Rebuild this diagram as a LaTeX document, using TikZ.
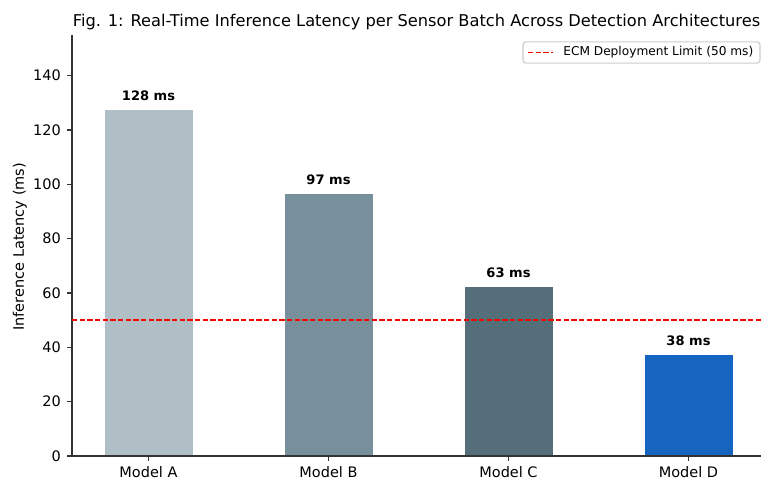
\documentclass[tikz,border=0pt]{standalone}
\usepackage{fontspec}
\setmainfont{DejaVu Sans}
\usetikzlibrary{positioning}
\definecolor{greyA}{HTML}{B0BEC5}
\definecolor{greyB}{HTML}{78909C}
\definecolor{greyC}{HTML}{546E7A}
\definecolor{blueD}{HTML}{1565C0}
\definecolor{spine}{HTML}{333333}

\begin{document}
\begin{tikzpicture}[x=4.365cm,y=0.06589cm,
    bar/.style={anchor=south,inner sep=0,minimum width=2.16cm,draw=white,line width=0.4pt},
    val/.style={inner sep=0,font=\fontsize{9}{10}\selectfont\bfseries},
    ticklab/.style={inner sep=0,font=\fontsize{10}{12}\selectfont},
    axis/.style={spine,line width=0.8pt},
    limit/.style={red,line width=1pt,dash pattern=on 3.7pt off 1.6pt}]

  \useasboundingbox (-0.825,-8.833) rectangle (3.4028,167.83);
  \clip (-0.825,-8.833) rectangle (3.4028,167.83);

  \foreach \name/\pos/\h/\col/\txt in {A/0/127.6/greyA/128, B/1/96.5/greyB/97,
      C/2/62.4/greyC/63, D/3/37.3/blueD/38} {
    \node[bar,fill=\col,minimum height=\h*0.6589mm] (\name) at (\pos,0) {};
    \node[val,above=5.6pt of \name] (t\name) {\txt\ ms};
    \draw[axis] (\pos,0) -- ++(0,-3.5pt);
    \node[ticklab,anchor=north] (x\name) at (\pos,-3.7) {Model \name};
  }

  \draw[axis] (-0.425,155) coordinate (top) -- (-0.425,0) coordinate (origin)
    -- (3.425,0) coordinate (xend);
  \foreach \v in {0,20,...,140} {
    \draw[axis] (-0.425,\v) -- ++(-3.5pt,0);
    \node[ticklab,anchor=east] (y\v) at (-0.486,\v) {\v};
  }
  \node[ticklab,rotate=90] (ylab) at (-0.714,77) {Inference Latency (ms)};

  \draw[limit] (-0.425,50) coordinate (lim1) -- (3.425,50) coordinate (lim2);

  \node[anchor=base,inner sep=0,font=\fontsize{11.2}{13}\selectfont] (title) at (1.489,158.1)
    {Fig. 1: Real-Time Inference Latency per Sensor Batch Across Detection Architectures};

  \draw[draw=black!20,fill=white,rounded corners=2pt,line width=0.8pt]
    (2.0806,144.6) rectangle (3.397,152.4);
  \draw[limit] (2.108,148.5) coordinate (leg1) -- (2.247,148.5) coordinate (leg2);
  \node[anchor=west,inner sep=0,font=\fontsize{8.4}{10}\selectfont] (leg) at (2.303,148.5)
    {ECM Deployment Limit (50 ms)};
\end{tikzpicture}
\end{document}
